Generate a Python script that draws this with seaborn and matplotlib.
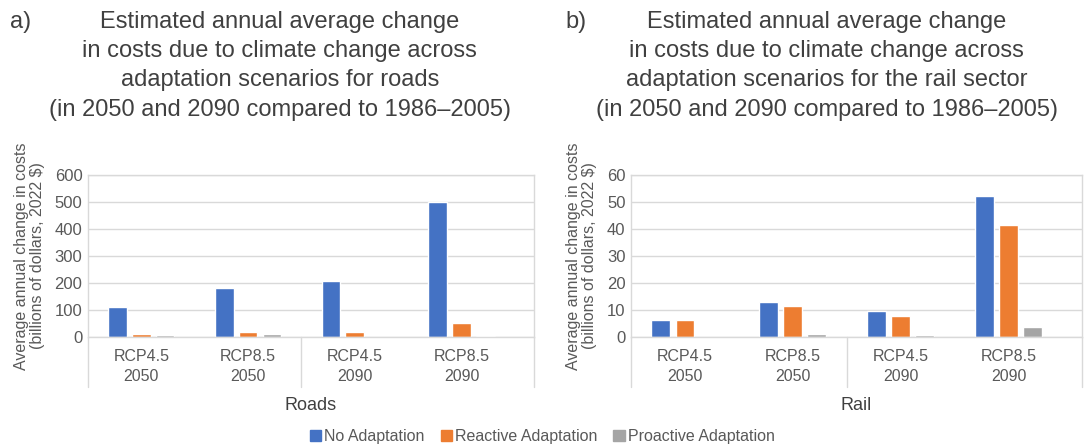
import numpy as np
import pandas as pd
import matplotlib
matplotlib.use("Agg")
import matplotlib.pyplot as plt
import matplotlib.transforms as mtransforms
import seaborn as sns

# ---- data ----
categories = ["RCP4.5\n2050", "RCP8.5\n2050", "RCP4.5\n2090", "RCP8.5\n2090"]
series = ["No Adaptation", "Reactive Adaptation", "Proactive Adaptation"]

roads_no = [112, 181, 209, 500]
roads_reactive = [12, 20, 17, 51]
roads_proactive = [7, 10, 0, 4]

rail_no = [6.4, 12.9, 9.5, 52.2]
rail_reactive = [6.2, 11.6, 7.6, 41.4]
rail_proactive = [0, 1.1, 0.8, 3.6]

colors = ["#4472C4", "#ED7D31", "#A5A5A5"]

sns.set_style("white")
plt.rcParams["font.family"] = ["Liberation Sans", "DejaVu Sans"]

TXT = "#595959"
TITLE = "#404040"
GRID = "#d9d9d9"


def make_df(no, re, pro):
    rows = []
    for s, vals in zip(series, [no, re, pro]):
        for c, v in zip(categories, vals):
            rows.append({"cat": c, "series": s, "value": v})
    return pd.DataFrame(rows)


fig = plt.figure(figsize=(10.89, 4.45), dpi=100)
ax1 = fig.add_axes([0.0808, 0.2427, 0.4096, 0.364])
ax2 = fig.add_axes([0.5794, 0.2427, 0.4141, 0.364])

panels = [
    (ax1, make_df(roads_no, roads_reactive, roads_proactive), 600, 100, "Roads", 0.257, "a)", 0.009,
     "Estimated annual average change\nin costs due to climate change across\nadaptation scenarios for roads\n(in 2050 and 2090 compared to 1986\u20132005)"),
    (ax2, make_df(rail_no, rail_reactive, rail_proactive), 60, 10, "Rail", 0.759, "b)", 0.519,
     "Estimated annual average change\nin costs due to climate change across\nadaptation scenarios for the rail sector\n(in 2050 and 2090 compared to 1986\u20132005)"),
]

for ax, df, ymax, step, xlab, tx, letter, lx, title in panels:
    sns.barplot(data=df, x="cat", y="value", hue="series", order=categories,
                hue_order=series, palette=colors, width=0.67, gap=0.22,
                saturation=1, ax=ax, legend=False, errorbar=None)
    ax.set_ylim(0, ymax)
    ax.set_yticks(np.arange(0, ymax + step / 2, step))
    ax.set_xlim(-0.5, 3.68)
    ax.grid(axis="y", color=GRID, linewidth=1)
    ax.set_axisbelow(True)
    for sp in ax.spines.values():
        sp.set_color(GRID)
        sp.set_linewidth(1)
    ax.tick_params(axis="both", length=0, colors=TXT)
    ax.tick_params(axis="y", labelsize=12, pad=4)
    ax.tick_params(axis="x", labelsize=11.5, pad=9)
    for t in ax.get_xticklabels():
        t.set_linespacing(1.4)
    ax.set_xlabel(xlab, fontsize=13, color=TITLE, labelpad=9)
    ax.set_ylabel("Average annual change in costs\n(billions of dollars, 2022 $)",
                  fontsize=11.5, color=TXT, labelpad=7, linespacing=1.1)
    trans = mtransforms.blended_transform_factory(ax.transData, ax.transAxes)
    for xv in [-0.5, 1.5, 3.68]:
        ax.plot([xv, xv], [0, -0.31], color=GRID, linewidth=1,
                transform=trans, clip_on=False)
    fig.text(tx, 0.975, title, ha="center", va="top", fontsize=17,
             color=TITLE, linespacing=1.42)
    fig.text(lx, 0.975, letter, ha="left", va="top", fontsize=17, color=TITLE)

handles = [plt.Rectangle((0, 0), 1, 1, color=c) for c in colors]
fig.legend(handles, series, loc="center", bbox_to_anchor=(0.498, 0.018),
           ncol=3, frameon=False, fontsize=11.5, handlelength=0.7,
           handleheight=0.7, handletextpad=0.2, columnspacing=1.0,
           labelcolor=TXT)

fig.savefig("out.png", dpi=100)
